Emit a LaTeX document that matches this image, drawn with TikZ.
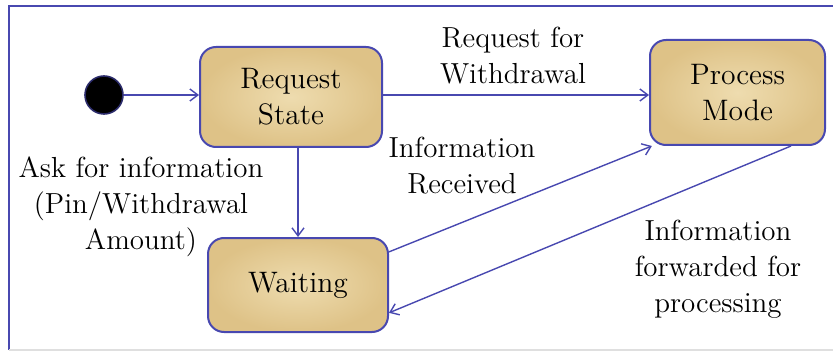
\documentclass[tikz,border=0pt]{standalone}
\usetikzlibrary{arrows.meta}
\definecolor{edgeblue}{RGB}{72,72,176}
\definecolor{tanfill}{RGB}{222,194,135}
\definecolor{tanlight}{RGB}{238,220,175}

\begin{document}
\begin{tikzpicture}[x=0.5pt,y=-0.5pt,font=\fontsize{14.5}{18}\selectfont,
    >={Straight Barb[length=4pt,width=6pt]},
    state/.style={draw=edgeblue,line width=1pt,rounded corners=8pt,inner color=tanlight,outer color=tanfill,align=center,font=\fontsize{14.8}{18}\selectfont},
    initstate/.style={circle,draw=edgeblue!60!black,line width=0.8pt,fill=black,minimum size=19pt,inner sep=0pt},
    trans/.style={->,edgeblue,line width=0.7pt},
    lbl/.style={align=center,inner sep=0pt}]

  % frame and page
  \useasboundingbox (0,0) rectangle (833,352);
  \draw[edgeblue,line width=0.7pt] (9,350) -- (9,6) -- (833,6);
  \draw[gray!25,line width=0.6pt] (9,350) -- (833,350);

  % states
  \node[initstate] (init) at (104,95) {};
  \node[state,minimum width=91pt,minimum height=50pt] (req) at (291,97) {Request\\State};
  \node[state,minimum width=90pt,minimum height=47pt] (wait) at (298,285) {Waiting};
  \node[state,minimum width=87.5pt,minimum height=52.5pt] (proc) at (737.5,92.5) {Process\\Mode};

  % transitions
  \draw[trans] (init) -- (req.west |- init);
  \draw[trans] (req.east |- init) -- (proc.west |- init);
  \draw[trans] (wait.north |- req.south) -- (wait.north);
  \draw[trans] (wait.20) -- (proc.-148);
  \draw[trans] (proc.-45) -- (wait.-17);

  % transition labels
  \node[lbl] (lreq) at (513,56) {Request for\\Withdrawal};
  \node[lbl] (lrec) at (462,166) {Information\\Received};
  \node[lbl] (lask) at (141,207) {Ask for information\\(Pin/Withdrawal\\Amount)};
  \node[lbl] (lfwd) at (718,269) {Information\\forwarded for\\processing};
\end{tikzpicture}
\end{document}
